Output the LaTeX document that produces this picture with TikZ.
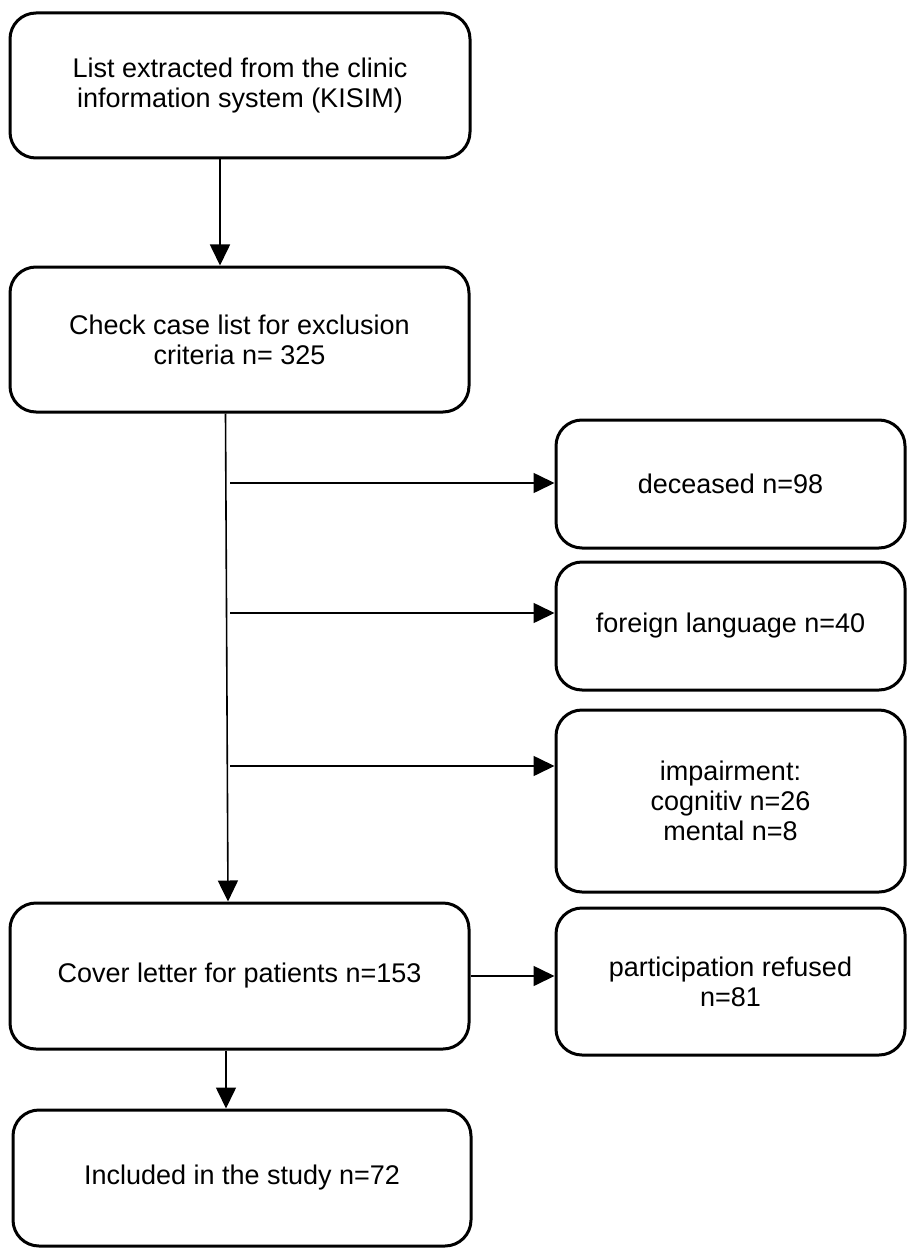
\documentclass[tikz,border=0pt]{standalone}
\usepackage{fontspec}
\setmainfont{Liberation Sans}
\usetikzlibrary{arrows.meta}
\begin{document}
\begin{tikzpicture}[x=1pt,y=-1pt,
  box/.style={draw, line width=3pt, rounded corners=26pt, align=center,
    font=\fontsize{27}{30}\selectfont, inner sep=0pt},
  conn/.style={line width=1.6pt},
  arr/.style={conn, -{Triangle[length=21pt,width=20pt]}}]
\useasboundingbox (0,0) rectangle (907,1249);
\node[box, minimum width=460pt, minimum height=145pt] (b1) at (240,85.5)
  {List extracted from the clinic\\information system (KISIM)};
\node[box, minimum width=459pt, minimum height=145pt] (b2) at (239.5,339.5)
  {Check case list for exclusion\\criteria n= 325};
\node[box, minimum width=349pt, minimum height=128pt] (dec) at (730.5,484)
  {deceased n=98};
\node[box, minimum width=349pt, minimum height=128pt] (for) at (730.5,626)
  {foreign language n=40};
\node[box, minimum width=349pt, minimum height=182pt] (imp) at (730.5,801)
  {impairment:\\cognitiv n=26\\mental n=8};
\node[box, minimum width=349pt, minimum height=147pt] (par) at (730.5,981.5)
  {participation refused\\n=81};
\node[box, minimum width=459pt, minimum height=146pt] (cov) at (239.5,976)
  {Cover letter for patients n=153};
\node[box, minimum width=458pt, minimum height=136pt] (inc) at (242,1178)
  {Included in the study n=72};
\coordinate (t1) at (230,483);
\coordinate (t2) at (230,613);
\coordinate (t3) at (230,766);
\draw[arr] ([xshift=-20pt]b1.south) -- ([xshift=-19.5pt]b2.north);
\draw[arr] ([xshift=-14pt]b2.south) -- ([xshift=-11.5pt]cov.north);
\draw[arr] (t1) -- (t1 -| dec.west);
\draw[arr] (t2) -- (t2 -| for.west);
\draw[arr] (t3) -- (t3 -| imp.west);
\draw[arr] (cov.east) -- (cov.east -| par.west);
\draw[arr] ([xshift=-13.5pt]cov.south) -- ([xshift=-16pt]inc.north);
\end{tikzpicture}
\end{document}
